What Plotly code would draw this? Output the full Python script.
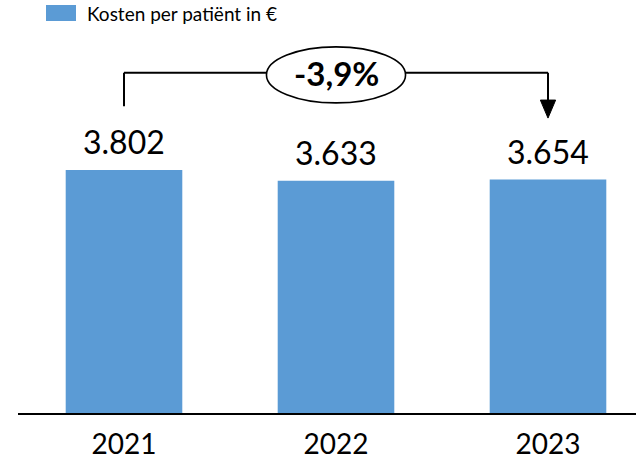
import plotly.graph_objects as go

# Data
years = ["2021", "2022", "2023"]
kosten = [3802, 3633, 3654]
series_name = "Kosten per patiënt in €"

BAR_COLOR = "#5B9BD5"
FONT = "Lato"

# Layout geometry (pixels)
W, H = 636, 462
ML, MR, MT, MB = 18, 0, 20, 49
plot_w = W - ML - MR
plot_h = H - MT - MB


def paper_x(px):
    return (px - ML) / plot_w


def paper_y(py):
    return (H - MB - py) / plot_h


x_pos = list(range(len(years)))
change = (kosten[-1] - kosten[0]) / kosten[0] * 100
change_text = "{:.1f}%".format(change).replace(".", ",")

fig = go.Figure()

fig.add_trace(go.Bar(x=x_pos,
                     y=kosten,
                     name=series_name,
                     width=0.55,
                     marker=dict(color=BAR_COLOR, line=dict(width=0)),
                     showlegend=False))

# value labels above the bars
for xi, v in zip(x_pos, kosten):
    fig.add_annotation(x=xi, y=v, text="{:,}".format(v).replace(",", "."),
                       showarrow=False, yanchor="bottom", yshift=7,
                       font=dict(family=FONT, size=32, color="black"))

# bracket with ellipse and arrow from first to last year
top = max(kosten) * 1.4
start = kosten[0] * 1.263
end = kosten[-1] * 1.263
mid = (x_pos[0] + x_pos[-1]) / 2
ew = 0.328
line = dict(color="black", width=2)

fig.add_shape(type="line", x0=x_pos[0], x1=x_pos[0], y0=start, y1=top, line=line)
fig.add_shape(type="line", x0=x_pos[0], x1=mid - ew, y0=top, y1=top, line=line)
fig.add_shape(type="line", x0=mid + ew, x1=x_pos[-1], y0=top, y1=top, line=line)
fig.add_shape(type="line", x0=x_pos[-1], x1=x_pos[-1], y0=top, y1=end + 280, line=line)
fig.add_shape(type="path",
              path="M {a},{b} L {c},{b} L {d},{e} Z".format(
                  a=x_pos[-1] - 0.036, b=end + 282, c=x_pos[-1] + 0.036,
                  d=x_pos[-1], e=end),
              fillcolor="black", line=dict(color="black", width=1))
fig.add_shape(type="circle", x0=mid - ew, x1=mid + ew, y0=top - 470, y1=top + 406,
              fillcolor="white", line=dict(color="black", width=1.6))
fig.add_annotation(x=mid, y=top, text="<b>" + change_text + "</b>",
                   showarrow=False, xref="x", yref="y",
                   font=dict(family=FONT, size=33, color="black"))

# legend drawn by hand to get the wide swatch
fig.add_shape(type="rect", xref="paper", yref="paper",
              x0=paper_x(46), x1=paper_x(76), y0=paper_y(21), y1=paper_y(5),
              fillcolor=BAR_COLOR, line=dict(width=0))
fig.add_annotation(x=paper_x(85), y=paper_y(14), xref="paper", yref="paper",
                   text=series_name, showarrow=False, xanchor="left", yanchor="middle",
                   font=dict(family=FONT, size=19, color="black"))

fig.update_layout(width=W, height=H,
                  margin=dict(l=ML, r=MR, t=MT, b=MB),
                  plot_bgcolor="white", paper_bgcolor="white",
                  font=dict(family=FONT, color="black"))

fig.update_xaxes(range=[-0.5, -0.5 + plot_w / 212],
                 tickvals=x_pos, ticktext=years,
                 tickfont=dict(family=FONT, size=28, color="black"),
                 showline=True, linecolor="black", linewidth=2,
                 showgrid=False, zeroline=False, ticks="",
                 ticklabelstandoff=5)
fig.update_yaxes(range=[0, 6150], visible=False, showgrid=False)

# drop the default body margin so the figure sits at the page corner
fig.write_html("out.html",
               config={"displayModeBar": False},
               post_script="document.body.style.margin='0';document.body.style.overflow='hidden';")
